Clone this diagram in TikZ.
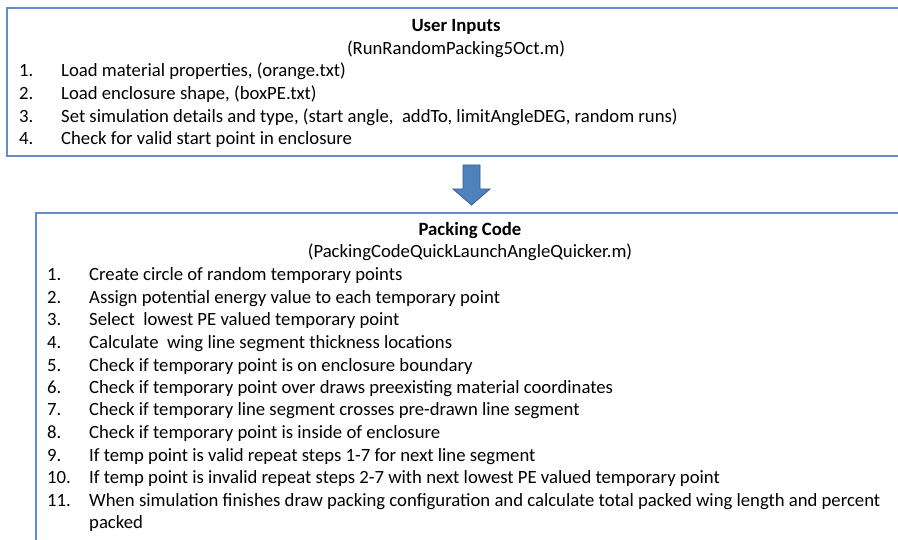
\documentclass[tikz,border=0pt]{standalone}
\usepackage{fontspec}
\setmainfont{Carlito}
\definecolor{boxline}{RGB}{100,140,205}
\definecolor{arrowfill}{RGB}{79,129,189}
\definecolor{arrowline}{RGB}{56,93,138}
\begin{document}
\begin{tikzpicture}[x=1pt,y=-1pt,
  txt/.style={anchor=base west,inner sep=0pt,font=\fontsize{18.7}{20}\selectfont},
  ttl/.style={anchor=base,inner sep=0pt,font=\fontsize{18.7}{20}\selectfont},
  boxframe/.style={draw=boxline,line width=1.1pt}]
\useasboundingbox (0,0) rectangle (898,540);
\fill[white] (0,0) rectangle (898,540);
% top box
\draw[boxframe] (7,8) rectangle (910,156);
\node[ttl,font=\fontsize{18.7}{20}\selectfont\bfseries] (t1) at (456,32) {User Inputs};
\node[ttl] (t2) at (456,55) {(RunRandomPacking5Oct.m)};
\foreach \n/\t [count=\i] in {1/{Load material properties, (orange.txt)},
  2/{Load enclosure shape, (boxPE.txt)},
  3/{Set simulation details and type, (start angle,\ \ addTo, limitAngleDEG, random runs)},
  4/{Check for valid start point in enclosure}}{
  \node[txt] (un\i) at (19,{77+(\i-1)*22.6}) {\n.};
  \node[txt] (ut\i) at (61,{77+(\i-1)*22.6}) {\t};
}
% arrow
\path[fill=arrowfill,draw=arrowline,line width=0.8pt] (463,165) -- (480,165) -- (480,189) -- (490,189) -- (471.5,205) -- (453,189) -- (463,189) -- cycle;
% bottom box
\draw[boxframe] (36,213) rectangle (910,560);
\node[ttl,font=\fontsize{18.7}{20}\selectfont\bfseries] (p1) at (470,236) {Packing Code};
\node[ttl] (p2) at (470,258) {(PackingCodeQuickLaunchAngleQuicker.m)};
\foreach \t [count=\i] in {{Create circle of random temporary points},
  {Assign potential energy value to each temporary point},
  {Select\ \ lowest PE valued temporary point},
  {Calculate\ \ wing line segment thickness locations},
  {Check if temporary point is on enclosure boundary},
  {Check if temporary point over draws preexisting material coordinates},
  {Check if temporary line segment crosses pre-drawn line segment},
  {Check if temporary point is inside of enclosure},
  {If temp point is valid repeat steps 1-7 for next line segment},
  {If temp point is invalid repeat steps 2-7 with next lowest PE valued temporary point},
  {When simulation finishes draw packing configuration and calculate total packed wing length and percent}}{
  \node[txt] (pn\i) at (47,{281+(\i-1)*22.5}) {\i.};
  \node[txt] (pt\i) at (89,{281+(\i-1)*22.5}) {\t};
}
\node[txt] (pt12) at (89,528.5) {packed};
\end{tikzpicture}
\end{document}
